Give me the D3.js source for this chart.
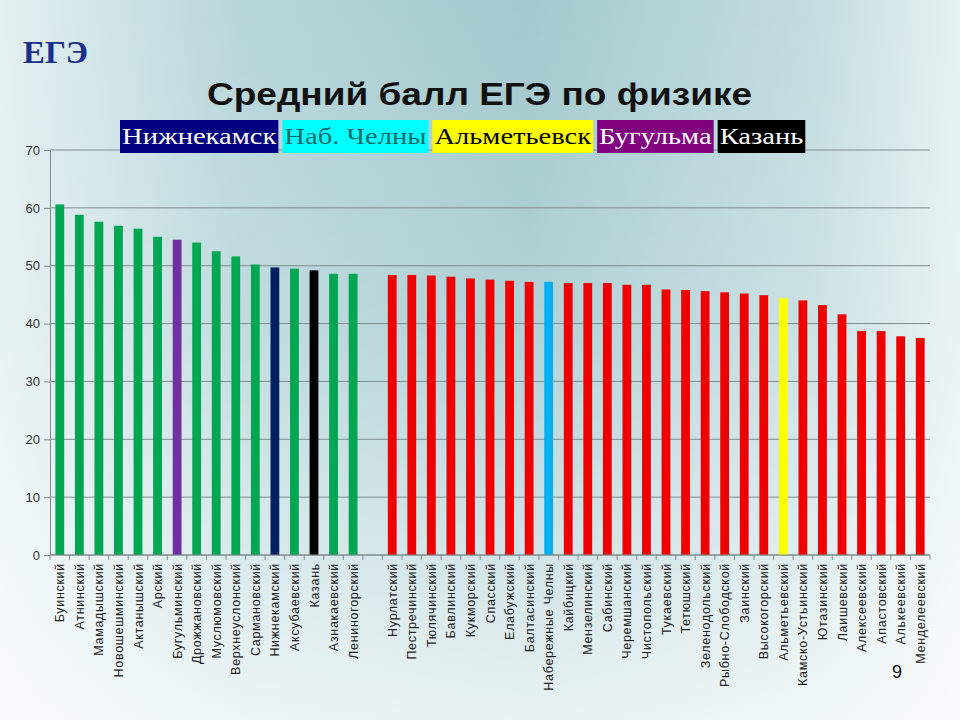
<!DOCTYPE html>
<html>
<head>
<meta charset="utf-8">
<script src="https://cdn.jsdelivr.net/npm/d3@7/dist/d3.min.js"></script>
<style>
  body { margin: 0; }
  svg { display: block; }
</style>
</head>
<body>
<svg id="chart" width="960" height="720"></svg>
<script>
// районы, слева - первая группа (зелёные), справа - вторая (красные)
var namesA = ["Буинский","Атнинский","Мамадышский","Новошешминский","Актанышский","Арский",
  "Бугульминский","Дрожжановский","Муслюмовский","Верхнеуслонский","Сармановский",
  "Нижнекамский","Аксубаевский","Казань","Азнакаевский","Лениногорский"]
var valuesA = [60.6,58.8,57.6,56.9,56.4,55.0,54.5,54.0,52.5,51.6,50.2,49.7,49.5,49.2,48.6,48.6]

var namesB = ["Нурлатский","Пестречинский","Тюлячинский","Бавлинский","Кукморский","Спасский",
  "Елабужский","Балтасинский","Набережные Челны","Кайбицкий","Мензелинский","Сабинский",
  "Черемшанский","Чистопольский","Тукаевский","Тетюшский","Зеленодольский","Рыбно-Слободской",
  "Заинский","Высокогорский","Альметьевский","Камско-Устьинский","Ютазинский","Лаишевский",
  "Алексеевский","Апастовский","Алькеевский","Менделеевский"]
var valuesB = [48.4,48.4,48.3,48.1,47.8,47.6,47.4,47.2,47.2,47.0,47.0,47.0,46.7,46.7,
  45.9,45.8,45.6,45.4,45.2,44.9,44.4,44.0,43.2,41.6,38.7,38.7,37.8,37.5]

var yTicks = [0,10,20,30,40,50,60,70]

// легенда: город, фон, цвет текста
var legendNames = ["Нижнекамск","Наб. Челны","Альметьевск","Бугульма","Казань"]
var legendFill = ["#000080","#00ffff","#ffff00","#800080","#000000"]
var legendText = ["#ffffff","#0b6b6b","#000000","#ffffff","#ffffff"]

// выделенные столбцы
var highlight = {
  "Бугульминский": "#7030a0",
  "Нижнекамский": "#002060",
  "Казань": "#000000",
  "Набережные Челны": "#00b0f0",
  "Альметьевский": "#ffff00"
}
var colorA = "#00a651"
var colorB = "#ee0000"

var rows = []
namesA.forEach(function(n, i){ rows.push({name: n, value: valuesA[i], color: highlight[n] || colorA}) })
rows.push({name: " ", value: null})
namesB.forEach(function(n, i){ rows.push({name: n, value: valuesB[i], color: highlight[n] || colorB}) })

var svg = d3.select("#chart")
var W = 960, H = 720
var margin = {left: 50, right: 30, top: 150, bottom: 165}
var sans = "'Liberation Sans', Arial, sans-serif"
var serif = "'Liberation Serif', 'Times New Roman', serif"

// фон слайда
var defs = svg.append("defs")
var bg = defs.append("linearGradient").attr("id", "bg").attr("x1", "0").attr("y1", "0").attr("x2", "1").attr("y2", "0")
bg.append("stop").attr("offset", "0%").attr("stop-color", "#e4f0f2")
bg.append("stop").attr("offset", "25%").attr("stop-color", "#b7d6da")
bg.append("stop").attr("offset", "55%").attr("stop-color", "#a3c9ce")
bg.append("stop").attr("offset", "85%").attr("stop-color", "#c3dde0")
bg.append("stop").attr("offset", "100%").attr("stop-color", "#e6f1f2")
var fade = defs.append("linearGradient").attr("id", "fade").attr("x1", "0").attr("y1", "0").attr("x2", "0").attr("y2", "1")
fade.append("stop").attr("offset", "0%").attr("stop-color", "#ffffff").attr("stop-opacity", 0)
fade.append("stop").attr("offset", "45%").attr("stop-color", "#ffffff").attr("stop-opacity", 0.15)
fade.append("stop").attr("offset", "100%").attr("stop-color", "#ffffff").attr("stop-opacity", 0.75)
svg.append("rect").attr("width", W).attr("height", H).attr("fill", "url(#bg)")
svg.append("rect").attr("width", W).attr("height", H).attr("fill", "url(#fade)")

// заголовки (в оригинале растянуты по ширине)
svg.append("text").attr("x", 23).attr("y", 63)
  .style("font-family", serif)
  .style("font-weight", "bold").style("font-size", "31px").style("fill", "#1b2f8c")
  .attr("textLength", 65).attr("lengthAdjust", "spacingAndGlyphs")
  .text("ЕГЭ")
svg.append("text").attr("x", 207).attr("y", 105)
  .style("font-family", sans)
  .style("font-weight", "bold").style("font-size", "31px").style("fill", "#111")
  .attr("textLength", 545).attr("lengthAdjust", "spacingAndGlyphs")
  .text("Средний балл ЕГЭ по физике")

var x = d3.scaleBand()
  .domain(rows.map(function(d){ return d.name }))
  .range([margin.left, W - margin.right])
  .paddingInner(0.55).paddingOuter(0.275)
var y = d3.scaleLinear().domain([0, 70]).range([H - margin.bottom, margin.top])

// сетка
svg.append("g").selectAll("line").data(yTicks).enter().append("line")
  .attr("x1", margin.left).attr("x2", W - margin.right)
  .attr("y1", function(d){ return y(d) }).attr("y2", function(d){ return y(d) })
  .attr("stroke", "#7f8c8e").attr("stroke-width", 1)

// ось Y
var yAxis = svg.append("g").attr("transform", "translate(" + margin.left + ",0)")
  .call(d3.axisLeft(y).tickValues(yTicks).tickSize(6).tickPadding(4))
yAxis.select(".domain").attr("stroke", "#7f8c8e")
yAxis.selectAll(".tick line").attr("stroke", "#7f8c8e")
yAxis.selectAll("text").style("font-family", sans)
  .style("font-size", "13px").style("fill", "#333")

// столбцы
svg.append("g").selectAll("rect").data(rows.filter(function(d){ return d.value != null })).enter().append("rect")
  .attr("x", function(d){ return x(d.name) })
  .attr("width", x.bandwidth())
  .attr("y", function(d){ return y(d.value) })
  .attr("height", function(d){ return y(0) - y(d.value) })
  .attr("fill", function(d){ return d.color })

// ось X: засечки между категориями
var step = x.step()
var xAxis = svg.append("g").attr("transform", "translate(0," + y(0) + ")")
xAxis.append("line").attr("x1", margin.left).attr("x2", W - margin.right).attr("stroke", "#7f8c8e")
xAxis.selectAll(".tk").data(d3.range(rows.length + 1)).enter().append("line")
  .attr("class", "tk")
  .attr("x1", function(i){ return margin.left + i * step }).attr("x2", function(i){ return margin.left + i * step })
  .attr("y1", 0).attr("y2", 5).attr("stroke", "#7f8c8e")
xAxis.selectAll("text").data(rows).enter().append("text")
  .attr("transform", function(d){ return "translate(" + (x(d.name) + x.bandwidth() / 2 + 4.5) + ",8) rotate(-90)" })
  .attr("text-anchor", "end")
  .style("font-family", sans)
  .style("font-size", "12.5px").style("letter-spacing", "0.7px").style("fill", "#222")
  .text(function(d){ return d.name })

// легенда
var lg = svg.append("g")
var lx = 120
legendNames.forEach(function(n, i){
  var t = lg.append("text").attr("x", lx + 2).attr("y", 144)
    .style("font-family", serif)
    .style("font-size", "24px").style("fill", legendText[i]).text(n)
  var w = t.node().getComputedTextLength() * 1.19
  t.attr("textLength", w).attr("lengthAdjust", "spacingAndGlyphs")
  lg.insert("rect", "text").attr("x", lx).attr("y", 120).attr("width", w + 4).attr("height", 33)
    .attr("fill", legendFill[i])
  lx += w + 8
})

// номер слайда
svg.append("text").attr("x", 897).attr("y", 678).attr("text-anchor", "middle")
  .style("font-family", sans).style("font-size", "18px").style("fill", "#111")
  .text("9")
</script>
</body>
</html>
